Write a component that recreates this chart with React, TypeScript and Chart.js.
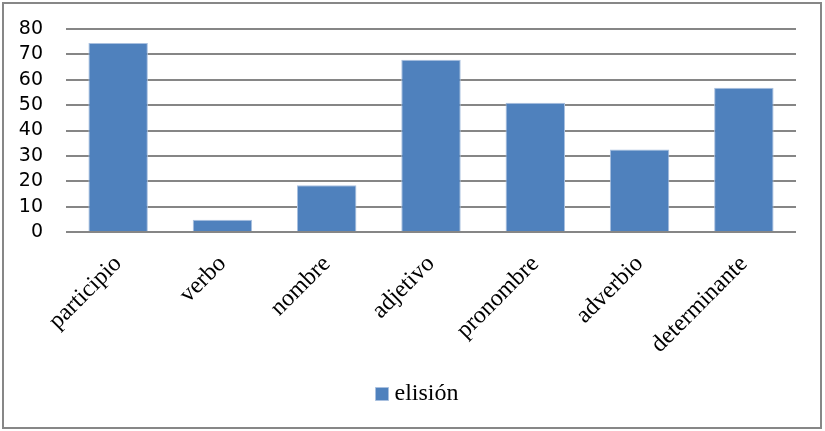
import { useEffect, useRef } from "react"
import { Chart, registerables } from "chart.js"

Chart.register(...registerables)

// datos
const categorias = ["participio", "verbo", "nombre", "adjetivo", "pronombre", "adverbio", "determinante"]
const elision = [74.5, 4.8, 18.4, 67.9, 50.9, 32.5, 56.8]
const serieNombre = "elisión"
const yMin = 0
const yMax = 80
const yPaso = 10

// mueve la leyenda un poco a la derecha, como en el original
const desplazarLeyenda = {
  id: "desplazarLeyenda",
  afterLayout(chart: any) {
    if (chart.legend) chart.legend.left += 40
  },
}

export default function App() {
  const chartRef = useRef<HTMLCanvasElement>(null)
  const chartInstance = useRef<Chart | null>(null)

  useEffect(() => {
    if (!chartRef.current) return
    if (chartInstance.current) chartInstance.current.destroy()

    const ctx = chartRef.current.getContext("2d")
    if (!ctx) return

    chartInstance.current = new Chart(ctx, {
      type: "bar",
      data: {
        labels: categorias,
        datasets: [
          {
            label: serieNombre,
            data: elision,
            backgroundColor: "#4f81bd",
            borderColor: "#a9c0df",
            borderWidth: 1,
            borderSkipped: "bottom",
            barPercentage: 0.57,
            categoryPercentage: 1,
          },
        ],
      },
      options: {
        animation: false,
        responsive: false,
        maintainAspectRatio: false,
        layout: {
          padding: { left: 0, right: 24, top: 25, bottom: 11 },
        },
        scales: {
          x: {
            grid: { display: false, drawTicks: false },
            border: { display: false },
            ticks: {
              minRotation: 45,
              maxRotation: 45,
              autoSkip: false,
              padding: 18,
              color: "#000",
              font: { family: "'Liberation Serif', 'Times New Roman', serif", size: 24 },
            },
            afterFit: (scale: any) => {
              scale.height = 140
            },
          },
          y: {
            min: yMin,
            max: yMax,
            grid: {
              color: "#868686",
              lineWidth: 2,
              drawTicks: true,
              tickLength: 23,
              tickColor: "rgba(0,0,0,0)",
            },
            border: { display: false },
            ticks: {
              stepSize: yPaso,
              autoSkip: false,
              padding: 0,
              color: "#000",
              font: { family: "'DejaVu Sans', Verdana, sans-serif", size: 19 },
            },
            afterFit: (scale: any) => {
              scale.width = 62
            },
          },
        },
        plugins: {
          legend: {
            position: "bottom",
            labels: {
              usePointStyle: true,
              pointStyle: "rect",
              boxWidth: 1,
              boxHeight: 13,
              padding: 10,
              color: "#000",
              font: { family: "'Liberation Serif', 'Times New Roman', serif", size: 24 },
            },
          },
          tooltip: { enabled: false },
        },
      },
      plugins: [desplazarLeyenda],
    })

    return () => {
      if (chartInstance.current) {
        chartInstance.current.destroy()
        chartInstance.current = null
      }
    }
  }, [])

  return (
    <div style={{ position: "fixed", left: 0, top: 0, width: 825, height: 431, background: "#fff" }}>
      <div
        style={{
          position: "absolute",
          left: 2,
          top: 2,
          width: 820,
          height: 427,
          border: "2px solid #878787",
          boxSizing: "border-box",
        }}
      >
        <canvas ref={chartRef} width={816} height={423} style={{ display: "block", width: 816, height: 423 }} />
      </div>
    </div>
  )
}
